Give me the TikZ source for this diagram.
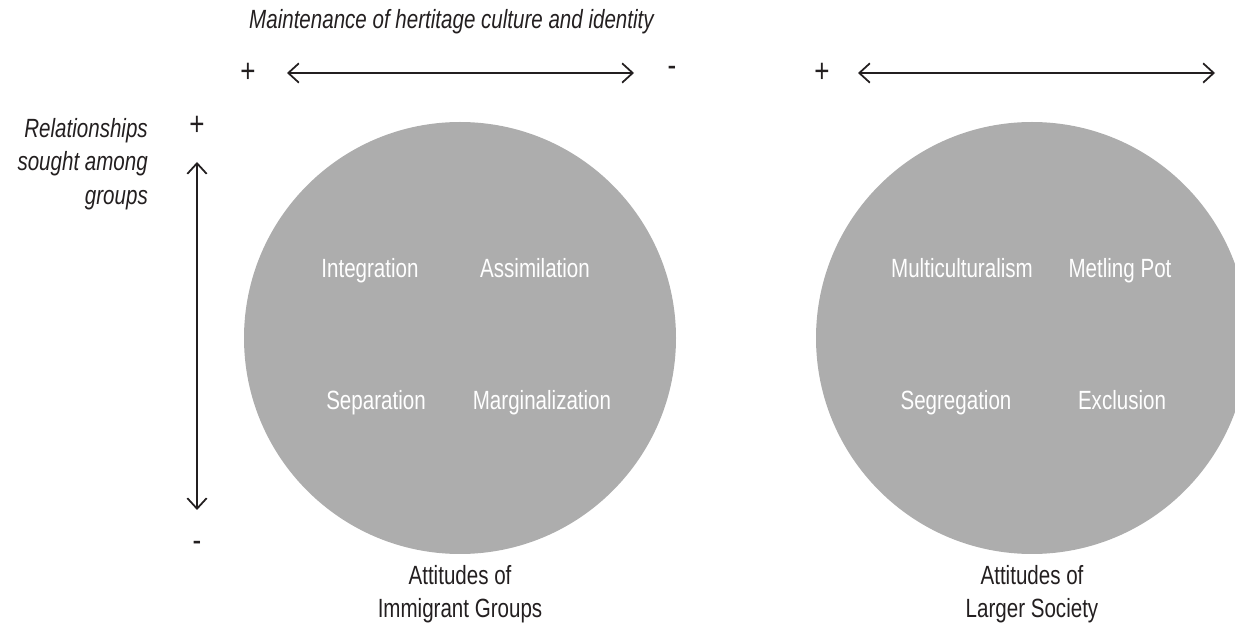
\documentclass[tikz,border=0pt]{standalone}
\usepackage{fontspec}
\setmainfont{Liberation Sans}[FakeStretch=0.78]
\usetikzlibrary{arrows.meta, positioning}

\definecolor{circgray}{HTML}{ADADAD}
\definecolor{inkgray}{HTML}{231F20}

\begin{document}
\begin{tikzpicture}[x=0.02cm, y=-0.02cm,
    every node/.style={text=inkgray, font=\fontsize{15}{19}\selectfont},
    quadrant/.style={text=white, anchor=base},
    sign/.style={font=\fontsize{19}{19}\selectfont},
    axisarrow/.style={{Straight Barb[length=6pt,width=11pt]}-{Straight Barb[length=6pt,width=11pt]}, line width=1pt, inkgray},
    caption/.style={align=center}]
    \useasboundingbox (0,0) rectangle (1235,631);

    % Circles
    \fill[circgray] (460,338) circle (216);
    \fill[circgray] (1032,338) circle (216);

    % Top axis
    \node[font=\fontsize{15}{19}\selectfont\itshape, anchor=west] (maint) at (243,22) {Maintenance of hertitage culture and identity};
    \node[sign] (plusA) at (248,73) {+};
    \node[sign] (minusA) at (672,71) {-};
    \coordinate (hAl) at (287,73);
    \coordinate (hAr) at (634,73);
    \draw[axisarrow] (hAl) -- (hAr);

    \node[sign] (plusB) at (822,73) {+};
    \coordinate (hBl) at (858,73);
    \coordinate (hBr) at (1215,73);
    \draw[axisarrow] (hBl) -- (hBr);

    % Left axis
    \node[font=\fontsize{15}{19}\selectfont\itshape, align=right, anchor=east] (rel) at (154,164) {Relationships\\sought among\\groups};
    \node[sign] (plusV) at (197,126) {+};
    \node[sign] (minusV) at (197,546) {-};
    \coordinate (vT) at (197,162);
    \coordinate (vB) at (197,510);
    \draw[axisarrow] (vT) -- (vB);

    % Immigrant groups
    \node[quadrant] (integ) at (370,278) {Integration};
    \node[quadrant] (assim) at (535,278) {Assimilation};
    \node[quadrant] (separ) at (376,410) {Separation};
    \node[quadrant] (margin) at (542,410) {Marginalization};

    % Larger society
    \node[quadrant] (multi) at (962,278) {Multiculturalism};
    \node[quadrant] (melt) at (1120,278) {Metling Pot};
    \node[quadrant] (segreg) at (956,410) {Segregation};
    \node[quadrant] (excl) at (1122,410) {Exclusion};

    % Captions
    \node[caption] (capA) at (460,594) {Attitudes of\\Immigrant Groups};
    \node[caption] (capB) at (1032,594) {Attitudes of\\Larger Society};

\end{tikzpicture}
\end{document}
